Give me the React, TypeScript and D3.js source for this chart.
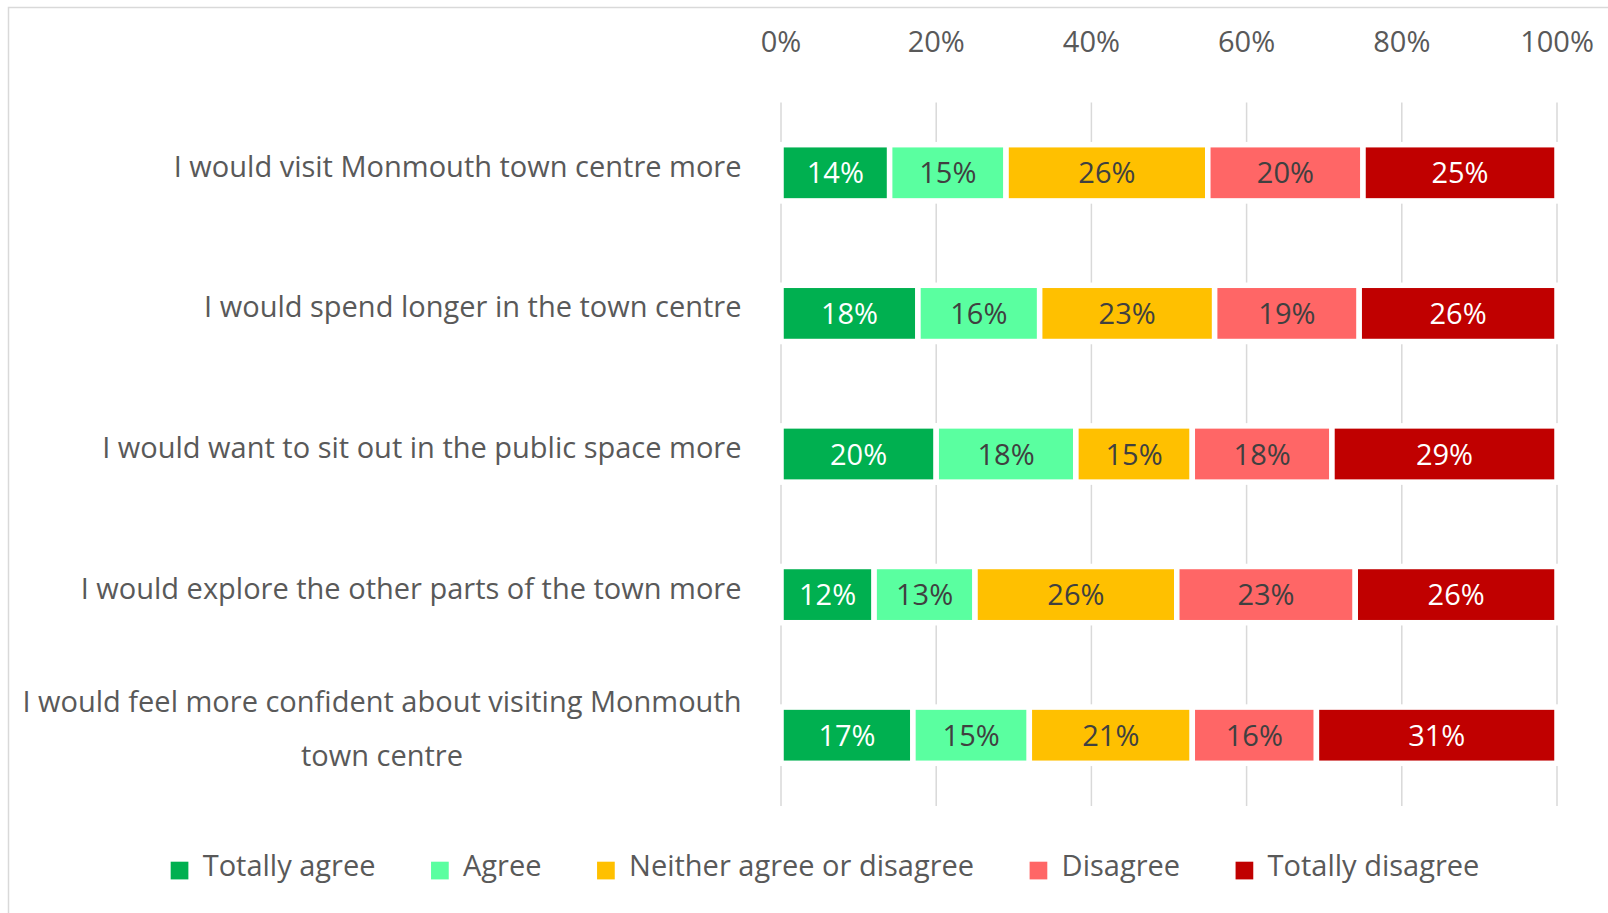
import React, { useRef, useEffect } from 'react';
import * as d3 from 'd3';

const categories = [
  'I would visit Monmouth town centre more',
  'I would spend longer in the town centre',
  'I would want to sit out in the public space more',
  'I would explore the other parts of the town more',
  'I would feel more confident about visiting Monmouth town centre',
];
const seriesNames = ['Totally agree', 'Agree', 'Neither agree or disagree', 'Disagree', 'Totally disagree'];
const totallyAgree = [14, 18, 20, 12, 17];
const agree = [15, 16, 18, 13, 15];
const neither = [26, 23, 15, 26, 21];
const disagree = [20, 19, 18, 23, 16];
const totallyDisagree = [25, 26, 29, 26, 31];
const tickValues = [0, 0.2, 0.4, 0.6, 0.8, 1];

const colors = ['#00B050', '#5AFFA0', '#FFC000', '#FF6666', '#C00000'];
const labelColors = ['#ffffff', '#404040', '#404040', '#404040', '#ffffff'];
const font = '"Open Sans", sans-serif';

function App() {
  const ref = useRef<SVGSVGElement>(null);

  useEffect(() => {
    if (!ref.current) return;
    const svg = d3.select(ref.current);
    svg.selectAll('*').remove();

    const rows = categories.map((c, i) => {
      const vals = [totallyAgree[i], agree[i], neither[i], disagree[i], totallyDisagree[i]];
      const total = d3.sum(vals);
      let acc = 0;
      const segs = vals.map((v, k) => {
        const s = { key: k, value: v, x0: acc / total, x1: (acc + v) / total };
        acc += v;
        return s;
      });
      return { category: c, segs };
    });

    const x = d3.scaleLinear().domain([0, 1]).range([781, 1557]);
    const y = d3.scaleBand<string>().domain(categories).range([102.5, 805.5]).paddingInner(0.6).paddingOuter(0.3);

    // outer border
    svg.append('rect')
      .attr('x', 8.5).attr('y', 7.5).attr('width', 1700).attr('height', 1000)
      .attr('fill', 'none').attr('stroke', '#d9d9d9').attr('stroke-width', 1.5);

    // gridlines
    svg.append('g').selectAll('line').data(tickValues).join('line')
      .attr('x1', (d) => x(d)).attr('x2', (d) => x(d))
      .attr('y1', 102.5).attr('y2', 806)
      .attr('stroke', '#d9d9d9').attr('stroke-width', 1.5);

    // tick labels
    svg.append('g').selectAll('text').data(tickValues).join('text')
      .attr('x', (d) => x(d)).attr('y', 51.5)
      .attr('text-anchor', 'middle')
      .attr('font-family', font).attr('font-size', 29).attr('fill', '#595959')
      .text((d) => d3.format('.0%')(d));

    // bars
    const bw = y.bandwidth();
    const rowG = svg.append('g').selectAll('g').data(rows).join('g')
      .attr('transform', (d) => `translate(0,${(y(d.category) as number) + bw / 2})`);

    rowG.selectAll('rect').data((d) => d.segs).join('rect')
      .attr('x', (d) => x(d.x0)).attr('width', (d) => x(d.x1) - x(d.x0))
      .attr('y', -bw / 2).attr('height', bw)
      .attr('fill', (d) => colors[d.key])
      .attr('stroke', '#ffffff').attr('stroke-width', 5.5);

    rowG.selectAll('text').data((d) => d.segs).join('text')
      .attr('x', (d) => (x(d.x0) + x(d.x1)) / 2).attr('y', 10.5)
      .attr('text-anchor', 'middle')
      .attr('font-family', font).attr('font-size', 29)
      .attr('fill', (d) => labelColors[d.key])
      .text((d) => `${d.value}%`);

    // category labels, wrapped like Excel
    const fs = 29;
    const measure = svg.append('text').attr('font-family', font).attr('font-size', fs).attr('visibility', 'hidden');
    const textWidth = (s: string) => {
      measure.text(s);
      return (measure.node() as SVGTextElement).getComputedTextLength();
    };
    const maxLine = 765;
    const lineH = 53.5;
    const labelRight = 741.5;
    categories.forEach((c) => {
      const words = c.split(' ');
      const lines: string[] = [];
      let cur = '';
      words.forEach((w) => {
        const t = cur ? `${cur} ${w}` : w;
        if (cur && textWidth(t) > maxLine) {
          lines.push(cur);
          cur = w;
        } else cur = t;
      });
      lines.push(cur);
      const maxW = d3.max(lines, textWidth) as number;
      const cy = (y(c) as number) + bw / 2;
      const t = svg.append('text')
        .attr('font-family', font).attr('font-size', fs).attr('fill', '#595959')
        .attr('text-anchor', 'middle');
      lines.forEach((ln, i) => {
        t.append('tspan')
          .attr('x', labelRight - maxW / 2)
          .attr('y', cy + 4 + (i - (lines.length - 1) / 2) * lineH)
          .text(ln);
      });
    });

    // legend
    const sq = 17.7;
    const textGap = 32;
    const itemGap = 55.5;
    const widths = seriesNames.map((s) => textWidth(s));
    const total = d3.sum(widths) + seriesNames.length * textGap + (seriesNames.length - 1) * itemGap;
    let lx = 825 - total / 2;
    const leg = svg.append('g');
    seriesNames.forEach((s, i) => {
      leg.append('rect').attr('x', lx).attr('y', 861.7).attr('width', sq).attr('height', sq).attr('fill', colors[i]);
      leg.append('text').attr('x', lx + textGap).attr('y', 875.7)
        .attr('font-family', font).attr('font-size', fs).attr('fill', '#595959')
        .text(s);
      lx += textGap + widths[i] + itemGap;
    });
    measure.remove();
  }, []);

  return (
    <svg
      ref={ref}
      width={1608}
      height={913}
      style={{ position: 'absolute', left: 0, top: 0, display: 'block', background: '#ffffff' }}
    />
  );
}

export default App;
